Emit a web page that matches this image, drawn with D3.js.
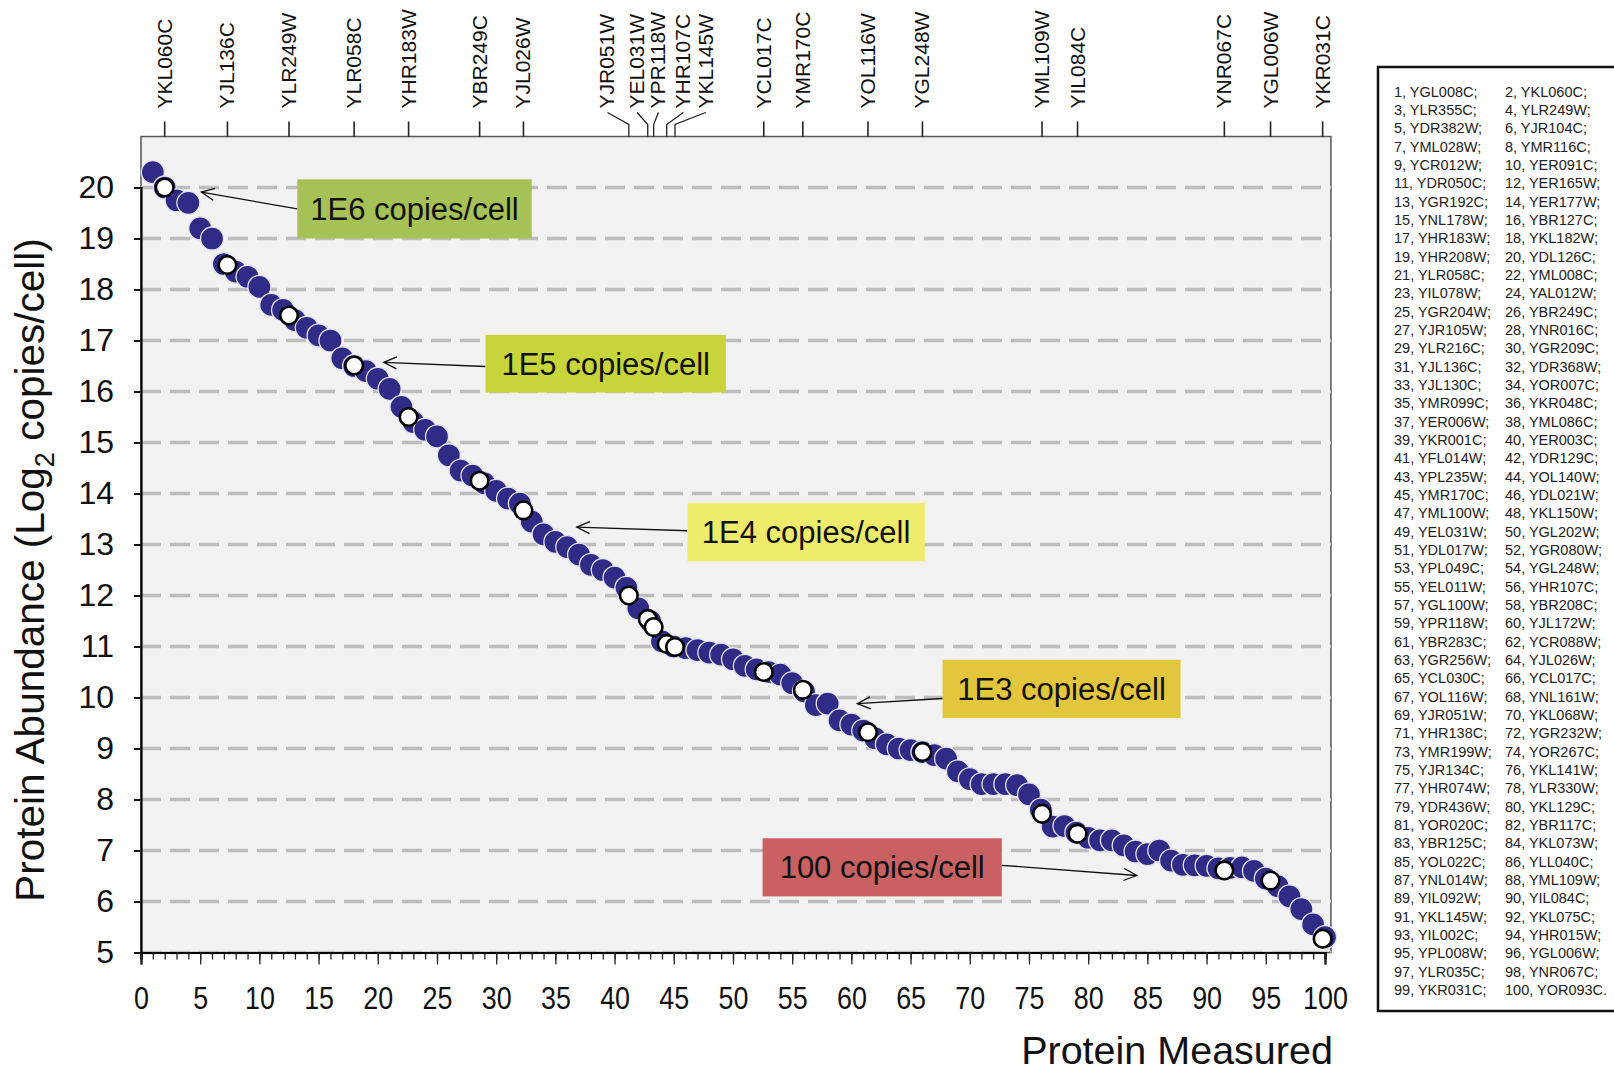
<!DOCTYPE html>
<html>
<head>
<meta charset="utf-8">
<script src="https://cdn.jsdelivr.net/npm/d3@7"></script>
<style>
  body { margin: 0; background: #fff; }
  svg { display: block; font-family: "Liberation Sans", Arial, sans-serif; }
</style>
</head>
<body>
<div id="chart"></div>
<script>
// rank of each measured protein and its abundance (log2 copies/cell)
var rank = d3.range(1, 101);
var abundance = [
  20.3, 20.0, 19.75, 19.7, 19.2, 19.0, 18.5, 18.35, 18.25, 18.05,
  17.7, 17.6, 17.4, 17.25, 17.1, 17.0, 16.65, 16.5, 16.4, 16.25,
  16.05, 15.7, 15.4, 15.25, 15.12, 14.75, 14.45, 14.35, 14.2, 14.05,
  13.9, 13.8, 13.45, 13.2, 13.05, 12.95, 12.8, 12.6, 12.5, 12.35,
  12.15, 11.75, 11.5, 11.1, 11.0, 10.97, 10.93, 10.88, 10.84, 10.75,
  10.62, 10.55, 10.5, 10.45, 10.28, 10.12, 9.85, 9.88, 9.55, 9.47,
  9.35, 9.2, 9.08, 9.0, 8.97, 8.93, 8.87, 8.8, 8.55, 8.4,
  8.3, 8.3, 8.3, 8.28, 8.1, 7.8, 7.47, 7.48, 7.35, 7.25,
  7.2, 7.2, 7.1, 6.98, 6.93, 7.0, 6.8, 6.72, 6.71, 6.7,
  6.65, 6.66, 6.67, 6.6, 6.45, 6.3, 6.1, 5.85, 5.55, 5.3
];

// highlighted proteins (white markers), named along the top
var hiNames = ["YKL060C", "YJL136C", "YLR249W", "YLR058C", "YHR183W", "YBR249C", "YJL026W",
  "YJR051W", "YEL031W", "YPR118W", "YHR107C", "YKL145W", "YCL017C", "YMR170C",
  "YOL116W", "YGL248W", "YML109W", "YIL084C", "YNR067C", "YGL006W", "YKR031C"];
var hiX = [2.0, 7.3, 12.5, 18.0, 22.6, 28.6, 32.3, 41.2, 42.8, 43.3, 44.4, 45.1,
  52.6, 55.9, 61.4, 66.0, 76.1, 79.1, 91.5, 95.4, 99.8];
var hiY = [20.0, 18.48, 17.49, 16.51, 15.5, 14.25, 13.67, 12.0, 11.54, 11.38, 11.05, 10.99,
  10.5, 10.15, 9.32, 8.93, 7.72, 7.33, 6.61, 6.41, 5.27];

// legend: protein number -> ORF
var legendOrf = ["YGL008C", "YKL060C", "YLR355C", "YLR249W", "YDR382W", "YJR104C", "YML028W", "YMR116C",
  "YCR012W", "YER091C", "YDR050C", "YER165W", "YGR192C", "YER177W", "YNL178W", "YBR127C", "YHR183W",
  "YKL182W", "YHR208W", "YDL126C", "YLR058C", "YML008C", "YIL078W", "YAL012W", "YGR204W", "YBR249C",
  "YJR105W", "YNR016C", "YLR216C", "YGR209C", "YJL136C", "YDR368W", "YJL130C", "YOR007C", "YMR099C",
  "YKR048C", "YER006W", "YML086C", "YKR001C", "YER003C", "YFL014W", "YDR129C", "YPL235W", "YOL140W",
  "YMR170C", "YDL021W", "YML100W", "YKL150W", "YEL031W", "YGL202W", "YDL017W", "YGR080W", "YPL049C",
  "YGL248W", "YEL011W", "YHR107C", "YGL100W", "YBR208C", "YPR118W", "YJL172W", "YBR283C", "YCR088W",
  "YGR256W", "YJL026W", "YCL030C", "YCL017C", "YOL116W", "YNL161W", "YJR051W", "YKL068W", "YHR138C",
  "YGR232W", "YMR199W", "YOR267C", "YJR134C", "YKL141W", "YHR074W", "YLR330W", "YDR436W", "YKL129C",
  "YOR020C", "YBR117C", "YBR125C", "YKL073W", "YOL022C", "YLL040C", "YNL014W", "YML109W", "YIL092W",
  "YIL084C", "YKL145W", "YKL075C", "YIL002C", "YHR015W", "YPL008W", "YGL006W", "YLR035C", "YNR067C",
  "YKR031C", "YOR093C"];

var yTicks = d3.range(5, 21);
var xMajor = d3.range(0, 101, 5);
var xMinor = d3.range(0, 101);

var copyLabels = ["1E6 copies/cell", "1E5 copies/cell", "1E4 copies/cell", "1E3 copies/cell", "100 copies/cell"];
var copyColors = ["#a6c257", "#c8d53a", "#efec6c", "#e2c63e", "#c96163"];

// annotation boxes & arrow tips, in data units
var boxes = [
  {x0: 13.2, x1: 33.0, y0: 20.16, y1: 19.0, tip: [5.1, 19.91], fromRight: false},
  {x0: 29.1, x1: 49.4, y0: 17.11, y1: 15.98, tip: [20.5, 16.57], fromRight: false},
  {x0: 46.15, x1: 66.2, y0: 13.81, y1: 12.67, tip: [36.8, 13.34], fromRight: false},
  {x0: 67.7, x1: 87.8, y0: 10.74, y1: 9.6, tip: [60.5, 9.88], fromRight: false},
  {x0: 52.5, x1: 72.7, y0: 7.24, y1: 6.1, tip: [84.1, 6.51], fromRight: true}
];
var arrowStartY = [19.58, 16.49, 13.27, 9.98, 6.71];

// crowded labels pushed sideways with leader lines
var leaderLabelX = {7: 39.4, 8: 41.9, 9: 43.7, 10: 45.8, 11: 47.7};

var W = 1614, H = 1075;
var svg = d3.select("#chart").append("svg").attr("width", W).attr("height", H);

var x = d3.scaleLinear().domain([0, 100]).range([141, 1325]);
var y = d3.scaleLinear().domain([5, 20]).range([952.5, 187.5]);
var xRight = x(100.5), yTop = y(21);

svg.append("defs").append("marker")
  .attr("id", "arr").attr("markerUnits", "userSpaceOnUse")
  .attr("viewBox", "-14 -8 16 16").attr("refX", 0).attr("refY", 0)
  .attr("markerWidth", 16).attr("markerHeight", 16).attr("orient", "auto")
  .append("path").attr("d", "M-13,-6L0,0L-13,6")
  .attr("fill", "none").attr("stroke", "#111").attr("stroke-width", 1.3);

// plot background + frame
svg.append("rect").attr("x", x(0)).attr("y", yTop)
  .attr("width", xRight - x(0)).attr("height", y(5) - yTop)
  .attr("fill", "#f2f2f2").attr("stroke", "#555").attr("stroke-width", 1.5);

// dashed grid
svg.append("g").selectAll("line").data(yTicks).join("line")
  .attr("x1", x(0)).attr("x2", xRight)
  .attr("y1", function(d) { return y(d); }).attr("y2", function(d) { return y(d); })
  .attr("stroke", "#bdbdbd").attr("stroke-width", 3.4).attr("stroke-dasharray", "20,9");

// axes
var gx = svg.append("g").attr("transform", "translate(0," + y(5) + ")");
gx.call(d3.axisBottom(x).tickValues(xMinor).tickSize(7).tickFormat(""));
gx.append("g").call(d3.axisBottom(x).tickValues(xMajor).tickSize(12).tickPadding(22));
gx.selectAll("path.domain").attr("stroke", "#000").attr("stroke-width", 2.2);
gx.selectAll(".tick line").attr("stroke", "#222").attr("stroke-width", 1.3);
// condensed digits like the original
gx.selectAll("text").attr("font-size", 32).attr("fill", "#111")
  .attr("transform", "scale(0.84,1)");

var gy = svg.append("g").attr("transform", "translate(" + x(0) + ",0)");
gy.call(d3.axisLeft(y).tickValues(yTicks).tickSize(7).tickPadding(20));
gy.selectAll("path.domain").attr("stroke", "#000").attr("stroke-width", 2.2);
gy.selectAll(".tick line").attr("stroke", "#111").attr("stroke-width", 2);
gy.selectAll("text").attr("font-size", 32).attr("fill", "#111")
  .attr("font-family", "'Liberation Sans', Arial, sans-serif");

// top axis of highlighted proteins
var topAxis = svg.append("g");
hiNames.forEach(function(name, i) {
  var tx = x(hiX[i]);
  var lx = leaderLabelX[i] !== undefined ? x(leaderLabelX[i]) : tx;
  if (lx === tx) {
    topAxis.append("line").attr("x1", tx).attr("x2", tx).attr("y1", yTop).attr("y2", yTop - 15)
      .attr("stroke", "#222").attr("stroke-width", 1.6);
  } else {
    topAxis.append("path")
      .attr("d", "M" + tx + "," + yTop + "V" + (yTop - 12) + "L" + lx + "," + (yTop - 24))
      .attr("fill", "none").attr("stroke", "#222").attr("stroke-width", 1.3);
  }
  topAxis.append("text")
    .attr("transform", "translate(" + (lx + 7) + "," + (yTop - 28) + ") rotate(-90)")
    .attr("font-size", 21).attr("fill", "#111").text(name);
});

// main points
svg.append("g").selectAll("circle").data(rank).join("circle")
  .attr("cx", function(d) { return x(d); })
  .attr("cy", function(d, i) { return y(abundance[i]); })
  .attr("r", 11.5)
  .attr("fill", "#2f2b86").attr("stroke", "#e4e4ee").attr("stroke-width", 1.3);

// highlighted points
svg.append("g").selectAll("circle").data(hiX).join("circle")
  .attr("cx", function(d) { return x(d); })
  .attr("cy", function(d, i) { return y(hiY[i]); })
  .attr("r", 8.8)
  .attr("fill", "#fff").attr("stroke", "#000").attr("stroke-width", 2.6);

// copy-number annotations
var ann = svg.append("g");
boxes.forEach(function(b, i) {
  var bx0 = x(b.x0), bx1 = x(b.x1), by0 = y(b.y0), by1 = y(b.y1);
  var sx = b.fromRight ? bx1 : bx0;
  ann.append("line")
    .attr("x1", sx).attr("y1", y(arrowStartY[i]))
    .attr("x2", x(b.tip[0])).attr("y2", y(b.tip[1]))
    .attr("stroke", "#111").attr("stroke-width", 1.3).attr("marker-end", "url(#arr)");
  ann.append("rect").attr("x", bx0).attr("y", by0)
    .attr("width", bx1 - bx0).attr("height", by1 - by0).attr("fill", copyColors[i]);
  ann.append("text").attr("x", (bx0 + bx1) / 2).attr("y", (by0 + by1) / 2)
    .attr("dy", "0.36em").attr("text-anchor", "middle")
    .attr("font-size", 31).attr("fill", "#111").text(copyLabels[i]);
});

// axis titles
var yt = svg.append("text")
  .attr("transform", "translate(44,570) rotate(-90)")
  .attr("text-anchor", "middle").attr("font-size", 40.5).attr("fill", "#111");
yt.append("tspan").text("Protein Abundance  (Log");
yt.append("tspan").attr("font-size", 27).attr("dy", 10).text("2");
yt.append("tspan").attr("dy", -10).text(" copies/cell)");

svg.append("text").attr("x", xRight + 2).attr("y", 1064)
  .attr("text-anchor", "end").attr("font-size", 39.5).attr("fill", "#111")
  .text("Protein Measured");

// numbered legend
var leg = svg.append("g");
leg.append("rect").attr("x", 1378).attr("y", 67).attr("width", 300).attr("height", 944)
  .attr("fill", "#fff").attr("stroke", "#111").attr("stroke-width", 2.5);
leg.selectAll("text").data(legendOrf).join("text")
  .attr("x", function(d, i) { return i % 2 === 0 ? 1394 : 1505; })
  .attr("y", function(d, i) { return 96.8 + Math.floor(i / 2) * 18.33; })
  .attr("font-size", 14.5).attr("fill", "#222")
  .text(function(d, i) { return (i + 1) + ", " + d + (i === legendOrf.length - 1 ? "." : ";"); });
</script>
</body>
</html>
